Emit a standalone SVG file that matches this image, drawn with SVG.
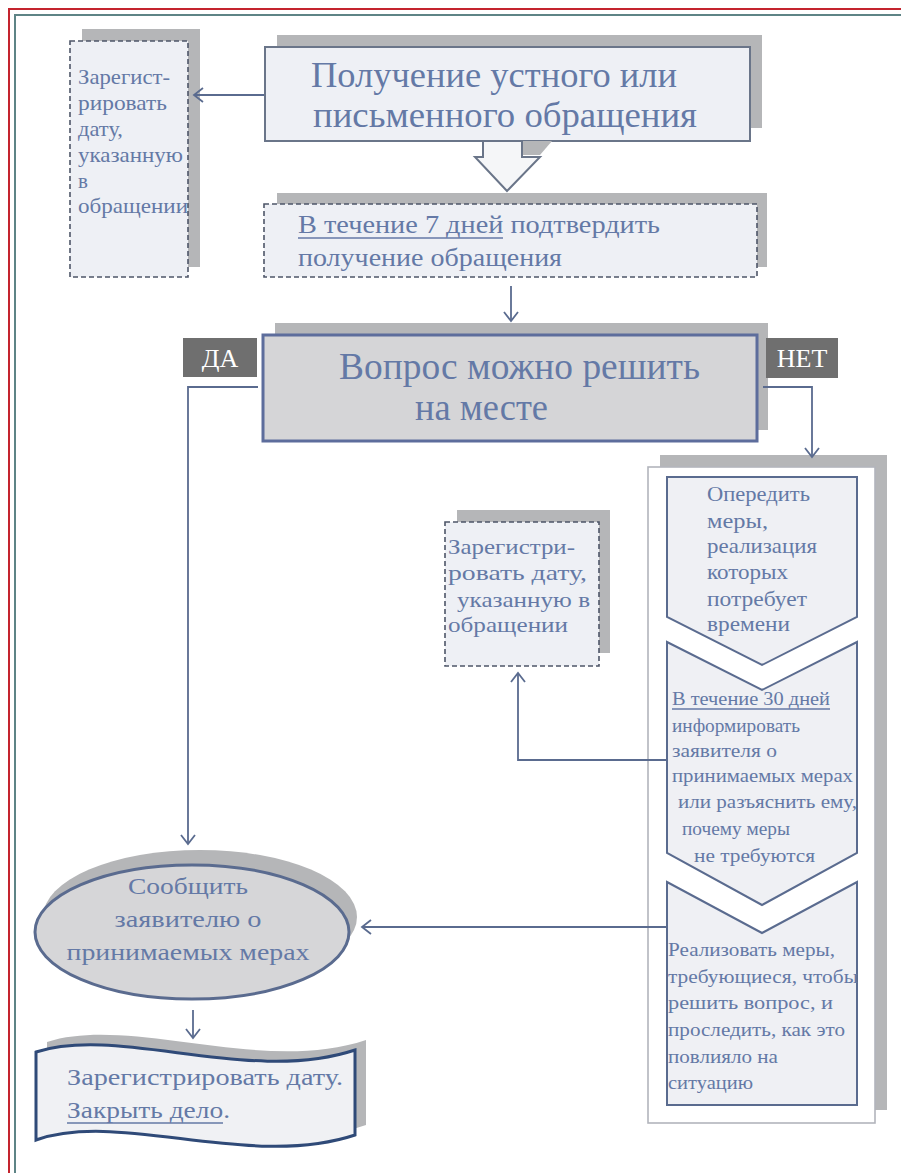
<svg xmlns="http://www.w3.org/2000/svg" width="901" height="1173" viewBox="0 0 901 1173">
<style>
.t{font-family:'Liberation Serif','DejaVu Serif','Times New Roman',serif;fill:#6479a6}
.sh{fill:#b5b6b8}
.box{fill:#eef0f5;stroke:#6a7589;stroke-width:2}
.dash{fill:#eef0f5;stroke:#4e5668;stroke-width:1.6;stroke-dasharray:5 3}
.conn{fill:none;stroke:#5a6b8f;stroke-width:1.8}
.chev{fill:#eff0f4;stroke:#5a6b8f;stroke-width:2}
.lbl{fill:#6f6f6f}
.lt{font-family:'Liberation Serif','DejaVu Serif','Times New Roman',serif;fill:#ffffff;font-size:26px}
.ul{stroke:#6479a6;stroke-width:1.3}
</style>
<defs>
<marker id="ah" viewBox="-11 -9 13 18" refX="0" refY="0" markerWidth="13" markerHeight="18" markerUnits="userSpaceOnUse" orient="auto">
<path d="M-9,-7 L0,0 L-9,7" fill="none" stroke="#5a6b8f" stroke-width="1.8"/>
</marker>
</defs>
<rect width="901" height="1173" fill="#ffffff"/>
<g id="page-border">
<path d="M9,1173 V9 H901" fill="none" stroke="#c4242e" stroke-width="2"/>
<path d="M15,1173 V15 H901" fill="none" stroke="#5e8486" stroke-width="2"/>
</g>

<g id="node-register-top">
<rect class="sh" x="82" y="29" width="118" height="238"/>
<rect class="dash" x="70" y="41" width="118" height="236"/>
<text class="t" font-family="Liberation Serif, serif" font-size="21"><tspan x="78" y="84" textLength="92" lengthAdjust="spacingAndGlyphs">Зарегист-</tspan><tspan x="78" y="110" textLength="89" lengthAdjust="spacingAndGlyphs">рировать</tspan><tspan x="78" y="136" textLength="45" lengthAdjust="spacingAndGlyphs">дату,</tspan><tspan x="78" y="162" textLength="105" lengthAdjust="spacingAndGlyphs">указанную</tspan><tspan x="78" y="188">в</tspan><tspan x="78" y="213" textLength="110" lengthAdjust="spacingAndGlyphs">обращении</tspan></text>
</g>

<g id="node-receive">
<rect class="sh" x="277" y="35" width="485" height="93"/>
<rect class="box" x="265" y="47" width="485" height="94"/>
<text class="t" font-family="Liberation Serif, serif" font-size="36"><tspan x="311" y="87" textLength="366" lengthAdjust="spacingAndGlyphs">Получение устного или</tspan><tspan x="313" y="127" textLength="384" lengthAdjust="spacingAndGlyphs">письменного обращения</tspan></text>
</g>

<g id="node-confirm">
<rect class="sh" x="277" y="193" width="490" height="74"/>
<rect class="dash" x="264" y="204" width="493" height="73"/>
<text class="t" font-family="Liberation Serif, serif" font-size="26"><tspan x="298" y="233" textLength="362" lengthAdjust="spacingAndGlyphs">В течение 7 дней подтвердить</tspan><tspan x="298" y="266" textLength="264" lengthAdjust="spacingAndGlyphs">получение обращения</tspan></text>
<line class="ul" x1="298" y1="238" x2="503" y2="238"/>
</g>

<g id="node-decision">
<rect class="sh" x="275" y="323" width="493" height="107"/>
<rect x="263" y="335" width="494" height="106" fill="#d5d5d7" stroke="#5d6d9c" stroke-width="3"/>
<text class="t" font-family="Liberation Serif, serif" font-size="38"><tspan x="339" y="379" textLength="361" lengthAdjust="spacingAndGlyphs">Вопрос можно решить</tspan><tspan x="415" y="420" textLength="133" lengthAdjust="spacingAndGlyphs">на месте</tspan></text>
</g>

<g id="label-yes">
<rect class="lbl" x="183" y="338" width="74" height="39"/>
<text class="lt" font-family="Liberation Serif, serif" x="220" y="367" text-anchor="middle">ДА</text>
</g>

<g id="label-no">
<rect class="lbl" x="766" y="338" width="72" height="40"/>
<text class="lt" font-family="Liberation Serif, serif" x="802" y="367" text-anchor="middle">НЕТ</text>
</g>

<g id="node-container">
<rect class="sh" x="660" y="455" width="227" height="655"/>
<rect x="648" y="467" width="227" height="656" fill="#ffffff" stroke="#b2b5bc" stroke-width="1.6"/>
</g>

<g id="node-define">
<path class="chev" d="M667,477 H857 V617 L762,665 L667,617 Z"/>
<text class="t" font-family="Liberation Serif, serif" font-size="21"><tspan x="707" y="501" textLength="103" lengthAdjust="spacingAndGlyphs">Опередить</tspan><tspan x="707" y="528" textLength="61" lengthAdjust="spacingAndGlyphs">меры,</tspan><tspan x="707" y="553" textLength="110" lengthAdjust="spacingAndGlyphs">реализация</tspan><tspan x="707" y="579" textLength="81" lengthAdjust="spacingAndGlyphs">которых</tspan><tspan x="707" y="606" textLength="100" lengthAdjust="spacingAndGlyphs">потребует</tspan><tspan x="707" y="631" textLength="83" lengthAdjust="spacingAndGlyphs">времени</tspan></text>
</g>

<g id="node-inform">
<path class="chev" d="M667,642 L762,690 L857,642 V853 L762,905 L667,853 Z"/>
<text class="t" font-family="Liberation Serif, serif" font-size="19"><tspan x="672" y="705" textLength="158" lengthAdjust="spacingAndGlyphs">В течение 30 дней</tspan><tspan x="672" y="732" textLength="128" lengthAdjust="spacingAndGlyphs">информировать</tspan><tspan x="672" y="757" textLength="105" lengthAdjust="spacingAndGlyphs">заявителя о</tspan><tspan x="672" y="782" textLength="181" lengthAdjust="spacingAndGlyphs">принимаемых мерах</tspan><tspan x="678" y="808" textLength="179" lengthAdjust="spacingAndGlyphs">или разъяснить ему,</tspan><tspan x="682" y="835" textLength="108" lengthAdjust="spacingAndGlyphs">почему меры</tspan><tspan x="694" y="862" textLength="121" lengthAdjust="spacingAndGlyphs">не требуются</tspan></text>
<line class="ul" x1="672" y1="709" x2="830" y2="709"/>
</g>

<g id="node-implement">
<path class="chev" d="M667,882 L762,933 L857,882 V1105 H667 Z"/>
<text class="t" font-family="Liberation Serif, serif" font-size="19"><tspan x="668" y="956" textLength="167" lengthAdjust="spacingAndGlyphs">Реализовать меры,</tspan><tspan x="668" y="983" textLength="190" lengthAdjust="spacingAndGlyphs">требующиеся, чтобы</tspan><tspan x="668" y="1009" textLength="165" lengthAdjust="spacingAndGlyphs">решить вопрос, и</tspan><tspan x="668" y="1036" textLength="177" lengthAdjust="spacingAndGlyphs">проследить, как это</tspan><tspan x="668" y="1063" textLength="110" lengthAdjust="spacingAndGlyphs">повлияло на</tspan><tspan x="668" y="1089" textLength="85" lengthAdjust="spacingAndGlyphs">ситуацию</tspan></text>
</g>

<g id="node-register-mid">
<rect class="sh" x="457" y="510" width="153" height="143"/>
<rect class="dash" x="445" y="522" width="154" height="144"/>
<text class="t" font-family="Liberation Serif, serif" font-size="22"><tspan x="448" y="554" textLength="127" lengthAdjust="spacingAndGlyphs">Зарегистри-</tspan><tspan x="448" y="580" textLength="139" lengthAdjust="spacingAndGlyphs">ровать дату,</tspan><tspan x="457" y="607" textLength="133" lengthAdjust="spacingAndGlyphs">указанную в</tspan><tspan x="448" y="632" textLength="120" lengthAdjust="spacingAndGlyphs">обращении</tspan></text>
</g>

<g id="node-notify">
<ellipse class="sh" cx="200" cy="917" rx="157" ry="67"/>
<ellipse cx="192" cy="932" rx="157" ry="67" fill="#d6d6d8" stroke="#5a6b8f" stroke-width="3"/>
<text class="t" font-family="Liberation Serif, serif" font-size="24" text-anchor="middle"><tspan x="188" y="894" textLength="120" lengthAdjust="spacingAndGlyphs">Сообщить</tspan><tspan x="188" y="927" textLength="147" lengthAdjust="spacingAndGlyphs">заявителю о</tspan><tspan x="188" y="960" textLength="243" lengthAdjust="spacingAndGlyphs">принимаемых мерах</tspan></text>
</g>

<g id="node-close">
<path class="sh" d="M47,1042 C131,1015 261,1075 366,1040 L366,1125 C261,1160 131,1100 47,1130 Z"/>
<path d="M36,1052 C120,1025 250,1085 355,1050 L355,1135 C250,1170 120,1110 36,1140 Z" fill="#f0f1f4" stroke="#2f4a78" stroke-width="3"/>
<text class="t" font-family="Liberation Serif, serif" font-size="24"><tspan x="67" y="1085" textLength="276" lengthAdjust="spacingAndGlyphs">Зарегистрировать дату.</tspan><tspan x="67" y="1118" textLength="163" lengthAdjust="spacingAndGlyphs">Закрыть дело.</tspan></text>
<line class="ul" x1="67" y1="1123" x2="223" y2="1123"/>
</g>

<g id="connectors">
<polygon points="523,141 552,141 540,155 523,155" fill="#b5b6b8"/>
<polygon points="483,141 522,141 522,157 540,157 507,191 475,157 483,157" fill="#f5f6f8" stroke="#6a7589" stroke-width="2"/>
<path class="conn" d="M264,95 H194" marker-end="url(#ah)"/>
<path class="conn" d="M511,286 V321" marker-end="url(#ah)"/>
<path class="conn" d="M258,387 H188 V844" marker-end="url(#ah)"/>
<path class="conn" d="M763,387 H812 V457" marker-end="url(#ah)"/>
<path class="conn" d="M666,760 H518 V673" marker-end="url(#ah)"/>
<path class="conn" d="M666,927 H362" marker-end="url(#ah)"/>
<path class="conn" d="M193,1010 V1038" marker-end="url(#ah)"/>
</g>
</svg>
